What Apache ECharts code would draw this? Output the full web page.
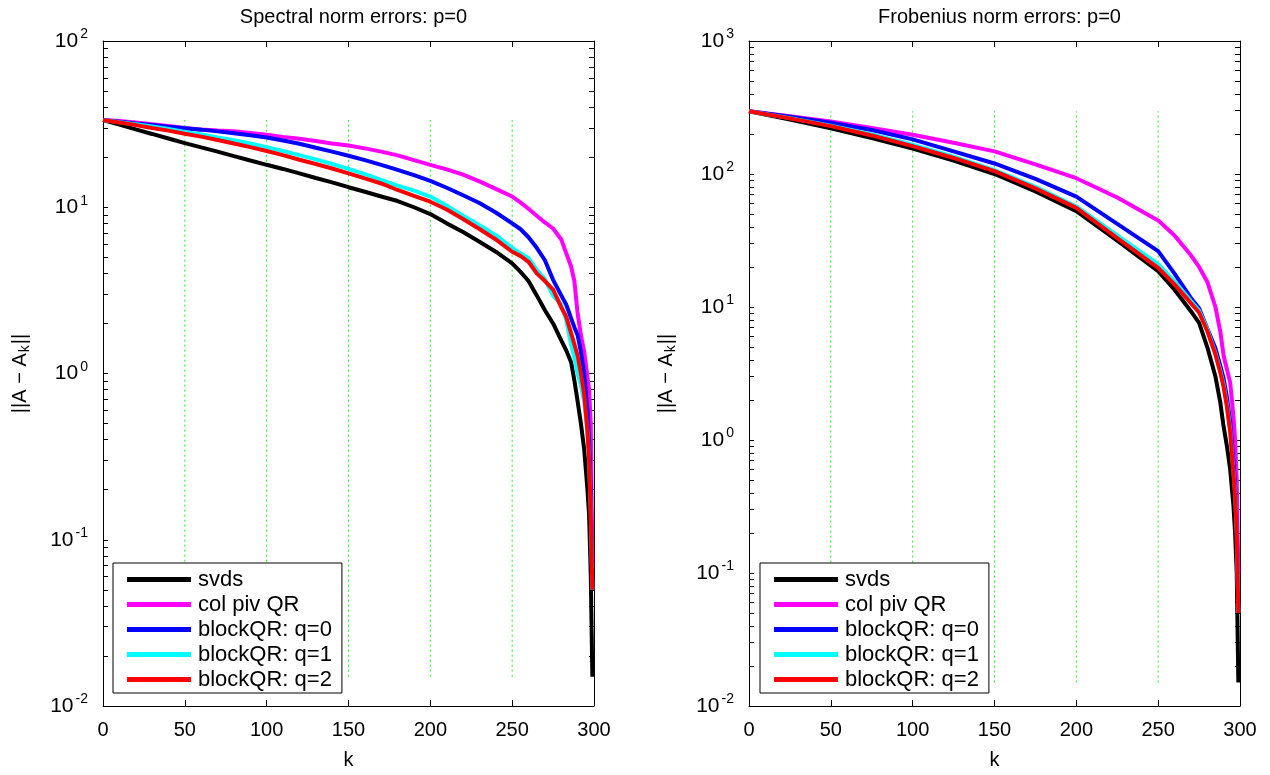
<!DOCTYPE html>
<html><head><meta charset="utf-8">
<script src="https://cdn.jsdelivr.net/npm/echarts@6/dist/echarts.min.js"></script>
<style>html,body{margin:0;padding:0;background:#fff}#c{width:1270px;height:775px}</style>
</head><body><div id="c"></div>
<script>
const FONT = '"Liberation Sans", Arial, Helvetica, sans-serif';

// ---- data: spectral norm panel ----
const kLeft = [0,10,20,30,40,50,60,70,80,90,100,110,120,130,140,150,160,170,180,190,200,210,220,230,240,250,255,260,265,270,275,280,283,286,288,290,292,294,296,297,298,299];
const specSvds   = [33.5,31.4,29.4,27.6,25.9,24.3,22.9,21.6,20.3,19.1,18.0,17.0,16.0,15.0,14.1,13.2,12.4,11.6,10.9,10.0,9.1,8.0,7.1,6.2,5.4,4.6,4.1,3.6,2.95,2.4,2.0,1.58,1.38,1.17,0.91,0.68,0.5,0.35,0.2,0.14,0.063,0.015];
const specColPiv = [33.5,33.0,32.4,31.6,30.8,30.0,29.4,29.0,28.7,28.0,27.3,26.5,25.8,25.0,24.2,23.5,22.6,21.6,20.5,19.2,18.0,16.9,15.7,14.3,12.9,11.6,10.7,9.8,8.9,8.1,7.45,6.4,5.3,4.4,3.6,2.3,1.7,1.35,0.95,0.8,0.5,0.07];
const specQ0     = [33.5,32.7,31.9,31.2,30.5,29.9,29.3,28.6,27.9,27.1,26.3,25.2,24.1,22.8,21.6,20.4,19.2,18.0,16.8,15.6,14.4,13.1,11.8,10.6,9.3,8.0,7.4,6.6,5.7,4.8,3.66,2.95,2.6,2.15,1.9,1.7,1.35,1.0,0.6,0.4,0.2,0.05];
const specQ1     = [33.5,32.5,31.6,30.6,29.6,28.4,27.4,26.3,25.3,24.2,23.0,21.8,20.6,19.4,18.2,17.0,15.8,14.6,13.5,12.6,11.6,10.2,8.9,7.8,6.8,5.7,5.3,4.95,4.2,3.7,2.94,2.6,2.1,1.5,1.25,1.0,0.85,0.68,0.45,0.3,0.15,0.05];
const specQ2     = [33.5,32.3,31.2,30.0,28.9,27.7,26.6,25.4,24.2,23.0,21.8,20.6,19.3,18.2,17.1,16.0,14.9,13.9,12.7,11.7,10.8,9.7,8.5,7.4,6.4,5.4,5.1,4.7,4.0,3.6,3.2,2.5,2.2,1.75,1.5,1.28,1.0,0.75,0.45,0.3,0.15,0.05];

// ---- data: Frobenius norm panel ----
const kRight = [0,25,50,75,100,125,150,175,200,225,250,260,270,275,280,285,288,290,292,294,296,297,298,299];
const frobSvds   = [296,257,221,186,155,126,100,74,52.5,31.6,18.6,13.5,9.3,7.6,5.0,3.0,1.9,1.26,0.9,0.6,0.32,0.2,0.1,0.015];
const frobColPiv = [296,272,248,222,197,172,148,118,93,66.6,44.8,34.5,24.5,20.0,15.5,10.0,6.5,4.3,3.4,2.7,1.5,1.0,0.5,0.1];
const frobQ0     = [296,269,243,214,182,148,120,92,67.6,42.2,26.3,17.8,11.7,9.8,6.9,4.9,3.6,2.9,2.1,1.38,0.7,0.45,0.22,0.05];
const frobQ1     = [296,263,231,198,166,135,107,80,57,34.5,21.0,15.6,11.1,9.4,6.8,4.5,3.3,2.6,1.85,1.2,0.58,0.4,0.2,0.05];
const frobQ2     = [296,262,229,195,162,132,105,78,55.6,33,19.7,14.8,10.7,9.1,6.6,4.4,3.2,2.5,1.78,1.15,0.56,0.38,0.2,0.05];

// ---- reference vertical dotted lines ----
const vLineK = [50,100,150,200,250];
const specVRange = [0.015, 33.5];
const frobVRange = [0.015, 296];

// ---- labels ----
const seriesNames = ['svds','col piv QR','blockQR: q=0','blockQR: q=1','blockQR: q=2'];
const seriesColors = ['#000000','#ff00ff','#0000ff','#00ffff','#ff0000'];
const titles = ['Spectral norm errors: p=0','Frobenius norm errors: p=0'];
const xTicks = [0,50,100,150,200,250,300];
const specDecades = [0.01,0.1,1,10,100];
const frobDecades = [0.01,0.1,1,10,100,1000];

function minorTicks(dec){
  const out=[];
  for(let i=0;i<dec.length;i++){
    out.push(dec[i]);
    if(i<dec.length-1) for(let m=2;m<=9;m++) out.push(+(m*dec[i]).toPrecision(3));
  }
  return out;
}
const zip=(ks,vs)=>ks.map((k,i)=>[k,vs[i]]);

const chart = echarts.init(document.getElementById('c'), null, {renderer:'canvas'});
const grids = [
  {left:103, top:41, width:491, height:674},
  {left:749, top:41, width:491, height:674}
];
const blk = {color:'#000', width:1};
function xAxesFor(gi){
  return [
    {type:'value', gridIndex:gi, min:0, max:300, interval:50, position:'bottom',
     axisLine:{onZero:false, lineStyle:blk}, axisTick:{inside:true, length:6, lineStyle:blk},
     axisLabel:{color:'#000', fontSize:20, fontFamily:FONT, margin:14, customValues:xTicks},
     splitLine:{show:false},
     name:'k', nameLocation:'middle', nameGap:44,
     nameTextStyle:{color:'#000', fontSize:20, fontFamily:FONT}},
    {type:'value', gridIndex:gi, min:0, max:300, interval:50, position:'top',
     axisLine:{onZero:false, lineStyle:blk}, axisTick:{inside:true, length:6, lineStyle:blk},
     axisLabel:{show:false}, splitLine:{show:false}}
  ];
}
function yAxesFor(gi, dec){
  const mn = dec[0], mx = dec[dec.length-1];
  const ticks = minorTicks(dec);
  return [
    {type:'log', logBase:10, gridIndex:gi, min:mn, max:mx, position:'left',
     axisLine:{onZero:false, lineStyle:blk},
     axisTick:{inside:true, length:5, lineStyle:blk, customValues:ticks},
     axisLabel:{color:'#000', fontFamily:FONT, margin:15, customValues:dec,
       formatter:v=>'{b|10}{s|'+Math.round(Math.log10(v))+'}',
       rich:{b:{fontSize:21, fontFamily:FONT, color:'#000'},
             s:{fontSize:14, fontFamily:FONT, color:'#000', padding:[0,0,13,2]}}},
     splitLine:{show:false},
     name:'{n|||A − A}{k|k}{n|||}', nameLocation:'middle', nameGap:71, nameRotate:90,
     nameTextStyle:{rich:{n:{fontSize:20, fontFamily:FONT, color:'#000'},
                          k:{fontSize:14, fontFamily:FONT, color:'#000', padding:[10,1,0,1]}}}},
    {type:'log', logBase:10, gridIndex:gi, min:mn, max:mx, position:'right',
     axisLine:{onZero:false, lineStyle:blk},
     axisTick:{inside:true, length:5, lineStyle:blk, customValues:ticks},
     axisLabel:{show:false}, splitLine:{show:false}}
  ];
}

const series = [];
function addPanel(gi, ks, arrays, vRange){
  vLineK.forEach(k=>{
    series.push({type:'line', xAxisIndex:gi*2, yAxisIndex:gi*2, data:[[k,vRange[0]],[k,vRange[1]]],
      symbol:'none', silent:true, z:1,
      lineStyle:{color:'#22ee22', width:1, type:[2,3]}});
  });
  arrays.forEach((arr,i)=>{
    series.push({type:'line', name:seriesNames[i], xAxisIndex:gi*2, yAxisIndex:gi*2,
      data:zip(ks,arr), symbol:'none', z:2+i,
      color:seriesColors[i], lineStyle:{color:seriesColors[i], width:4}});
  });
}
addPanel(0, kLeft, [specSvds,specColPiv,specQ0,specQ1,specQ2], specVRange);
addPanel(1, kRight, [frobSvds,frobColPiv,frobQ0,frobQ1,frobQ2], frobVRange);

function legendAt(left){
  return {orient:'vertical', left:left, top:563, data:seriesNames,
    icon:'rect', itemWidth:64, itemHeight:5, itemGap:0,
    padding:[4,10,1,14], borderColor:'#000', borderWidth:1, backgroundColor:'#fff',
    textStyle:{fontSize:22, fontFamily:FONT, color:'#000', lineHeight:25, padding:[0,0,0,2]},
    selectedMode:false, z:10};
}

chart.setOption({
  animation:false,
  backgroundColor:'#fff',
  title: titles.map((t,i)=>({text:t, left: i===0 ? 348.5 : 994.5, top:2, textAlign:'center',
     textStyle:{fontSize:20, fontWeight:'normal', color:'#000', fontFamily:FONT}})),
  grid: grids,
  xAxis: [...xAxesFor(0), ...xAxesFor(1)],
  yAxis: [...yAxesFor(0, specDecades), ...yAxesFor(1, frobDecades)],
  legend: [legendAt(113), legendAt(760)],
  series: series
});
</script>
</body></html>
